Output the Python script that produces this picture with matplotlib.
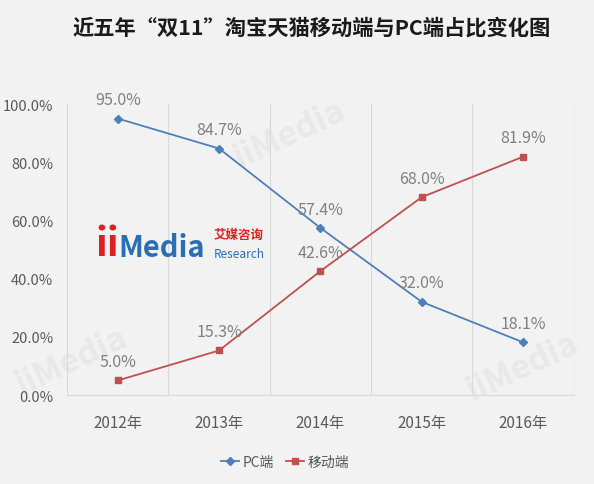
import matplotlib
matplotlib.use("Agg")
import matplotlib.pyplot as plt

plt.rcParams['font.family'] = ['Noto Sans CJK SC', 'DejaVu Sans']

years = ["2012年", "2013年", "2014年", "2015年", "2016年"]
pc = [95.0, 84.7, 57.4, 32.0, 18.1]
mobile = [5.0, 15.3, 42.6, 68.0, 81.9]
yticks = [0, 20, 40, 60, 80, 100]

bg = "#f2f2f2"
blue = "#4f7fbb"
red = "#c0504d"

fig = plt.figure(figsize=(5.94, 4.85), dpi=100, facecolor=bg)
ax = fig.add_axes([0.113, 0.1835, 0.853, 0.6], facecolor=bg)

x = list(range(len(years)))

# faint watermarks
for wx, wy in [(1.7, 90), (-0.45, 12), (4.0, 10)]:
    ax.text(wx, wy, "iiMedia", fontsize=24, fontweight='bold', color="#e8e8e8",
            rotation=25, ha='center', va='center', zorder=0)

ax.plot(x, pc, color=blue, marker='D', markersize=4, linewidth=1.3, label="PC端", zorder=3)
ax.plot(x, mobile, color=red, marker='s', markersize=5, linewidth=1.3, label="移动端", zorder=3)

for xi, v in zip(x, pc):
    ax.text(xi, v + 6.5, f"{v:.1f}%", ha='center', va='center', fontsize=11.5, color="#808080")
for xi, v in zip(x, mobile):
    ax.text(xi, v + 6.5, f"{v:.1f}%", ha='center', va='center', fontsize=11.5, color="#808080")

ax.set_xlim(-0.5, len(years) - 0.5)
ax.set_ylim(0, 100)
ax.set_yticks(yticks)
ax.set_yticklabels([f"{t:.1f}%" for t in yticks], fontsize=10.5, color="#595959")
ax.set_xticks(x)
ax.set_xticklabels(years, fontsize=11, color="#595959")
ax.tick_params(axis='x', length=0, pad=14)
ax.tick_params(axis='y', length=0, pad=10)

for b in [i - 0.5 for i in range(len(years) + 1)]:
    ax.axvline(b, color="#d9d9d9", linewidth=0.8, zorder=1)
for s in ['top', 'right', 'left']:
    ax.spines[s].set_visible(False)
ax.spines['bottom'].set_color("#d9d9d9")

# logo
ax.text(-0.22, 52, "ii", color="#e02020", fontsize=28, fontweight='bold', ha='left', va='center')
ax.text(0.01, 51, "Media", color="#2a6fb5", fontsize=21, fontweight='bold', ha='left', va='center')
ax.text(0.95, 55, "艾媒咨询", color="#e02020", fontsize=9, fontweight='bold', ha='left', va='center')
ax.text(0.95, 48.5, "Research", color="#2a6fb5", fontsize=8.5, fontstyle='italic', ha='left', va='center')

fig.text(0.524, 0.942, "近五年“双11”淘宝天猫移动端与PC端占比变化图", ha='center', va='center',
         fontsize=15.3, fontweight='bold', color="#1a1a1a")

fig.legend(loc='center', bbox_to_anchor=(0.48, 0.045), ncol=2, frameon=False, fontsize=10,
           handlelength=1.3, handletextpad=0.3, columnspacing=0.8, labelcolor="#595959")

fig.savefig("out.png", dpi=100, facecolor=bg)
